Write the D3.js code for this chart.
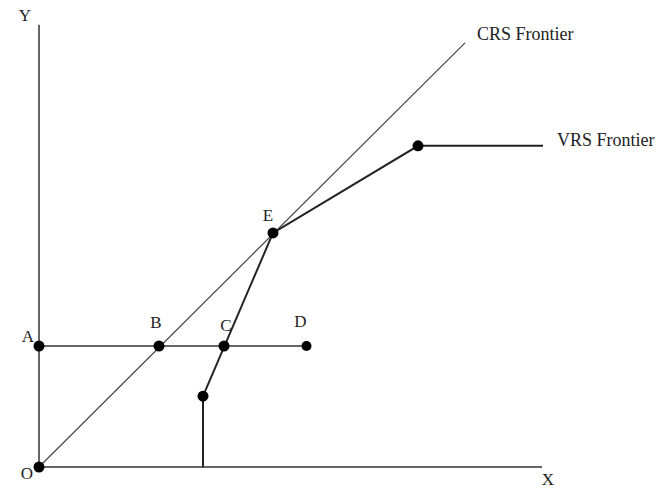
<!DOCTYPE html>
<html><head><meta charset="utf-8">
<script src="https://cdn.jsdelivr.net/npm/d3@7"></script>
<style>body{margin:0;background:#fff}svg{display:block}text{font-family:"Liberation Serif","Times New Roman",serif;fill:#222}</style>
</head><body>
<script>
// Named points (data units)
const pointNames = ["O","A","B","C","D","F","E","G"];
const pointX = [0, 0, 2.4, 3.7, 5.35, 3.28, 4.68, 7.58];
const pointY = [0, 2.75, 2.75, 2.75, 2.75, 1.61, 5.32, 7.3];
const labelNames = ["O","A","B","C","D","E"];
const axisEnds = {x: 10.06, y: 10.05};
const crsEnd = [8.52, 9.64];
const vrsEndX = 10.08;
const frontierLabels = ["CRS Frontier", "VRS Frontier"];

const W = 670, H = 491;
const x = d3.scaleLinear().domain([0, 10]).range([39, 539]);
const y = d3.scaleLinear().domain([0, 10]).range([467, 27]);
const P = {};
pointNames.forEach((n, i) => P[n] = [pointX[i], pointY[i]]);

const svg = d3.select("body").append("svg").attr("width", W).attr("height", H);
const line = d3.line().x(d => x(d[0])).y(d => y(d[1]));

function path(pts, w, c) {
  svg.append("path").attr("d", line(pts)).attr("fill", "none")
    .attr("stroke", c).attr("stroke-width", w);
}
// axes
path([[0, axisEnds.y], [0, 0], [axisEnds.x, 0]], 1.5, "#333");
// CRS frontier
path([P.O, crsEnd], 1.2, "#444");
// horizontal A-D
path([P.A, P.D], 1.5, "#333");
// VRS frontier
path([[P.F[0], 0], P.F, P.E, P.G, [vrsEndX, P.G[1]]], 2, "#222");

// dots
svg.selectAll("circle").data(pointNames).join("circle")
  .attr("cx", n => x(P[n][0])).attr("cy", n => y(P[n][1]))
  .attr("r", n => n === "D" ? 5 : 5.5).attr("fill", "#000");

// labels
const lblOff = {O: [-12, 12], A: [-11, -4], B: [-3, -18], C: [2, -15], D: [-6, -19], E: [-5, -12]};
labelNames.forEach(n => {
  svg.append("text").attr("x", x(P[n][0]) + lblOff[n][0]).attr("y", y(P[n][1]) + lblOff[n][1])
    .attr("text-anchor", "middle").attr("font-size", 17).text(n);
});
svg.append("text").attr("x", x(0) - 14).attr("y", y(axisEnds.y) - 4).attr("text-anchor", "middle").attr("font-size", 17).text("Y");
svg.append("text").attr("x", x(axisEnds.x) + 6).attr("y", y(0) + 18).attr("text-anchor", "middle").attr("font-size", 17).text("X");
svg.append("text").attr("x", x(crsEnd[0]) + 12).attr("y", y(crsEnd[1]) - 3).attr("font-size", 18).text(frontierLabels[0]);
svg.append("text").attr("x", x(vrsEndX) + 14).attr("y", y(P.G[1])).attr("font-size", 18).text(frontierLabels[1]);
</script>
</body></html>
